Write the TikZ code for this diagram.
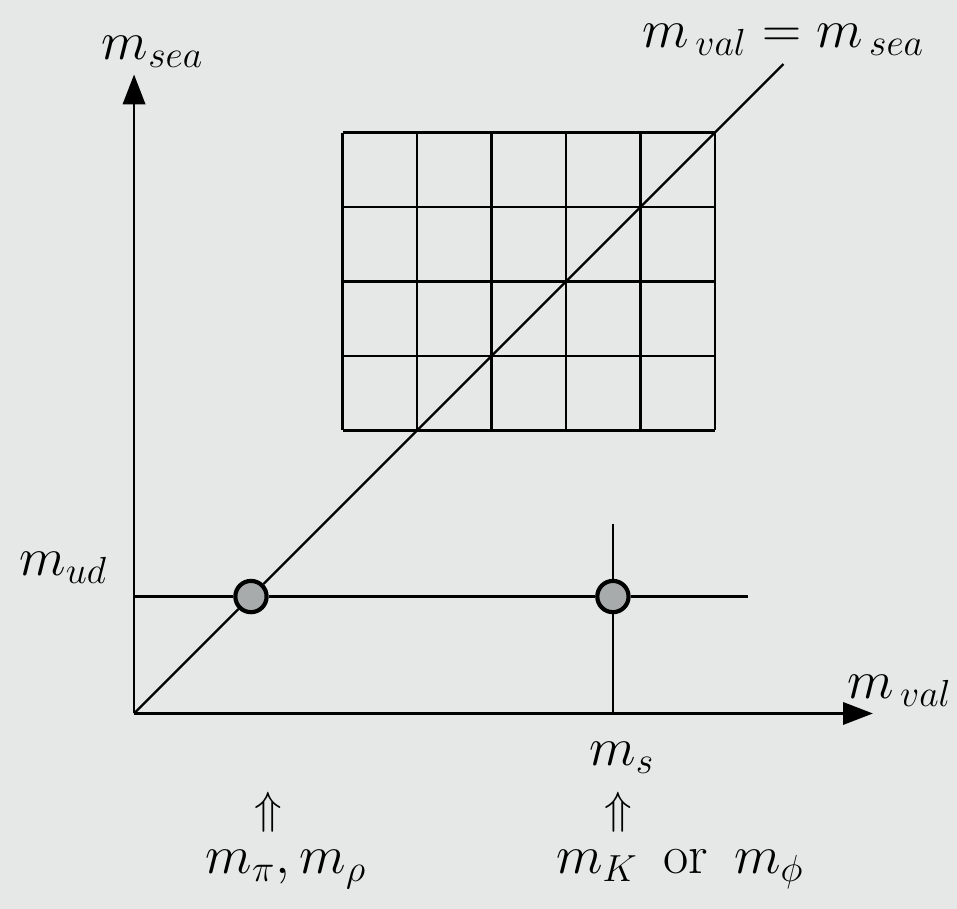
\documentclass[tikz,border=0pt]{standalone}
\usepackage{amsmath}
\usepackage{tikz}
\usetikzlibrary{arrows.meta, positioning}
\definecolor{paper}{RGB}{230,232,232}
\definecolor{dotgray}{RGB}{168,171,171}
\tikzset{
  lbl/.style={inner sep=0pt, font=\fontsize{21}{26}\selectfont},
  hint/.style={inner sep=0pt, font=\fontsize{17}{20}\selectfont},
  mass/.style={circle, draw=black, line width=1.6pt, fill=dotgray, minimum size=0.42cm, inner sep=0pt},
}

\begin{document}
\begin{tikzpicture}[line width=0.9pt, >={Triangle[length=4mm, width=3mm]}]
        % Frame
        \fill[paper] (-1.8,-2.62) rectangle (11.05,9.58);
        \useasboundingbox (-1.8,-2.62) rectangle (11.05,9.58);

        % Points
        \coordinate (O) at (0, 0);
        \coordinate (X) at (9.92, 0);
        \coordinate (Y) at (0, 8.58);
        \coordinate (D) at (8.72, 8.72);
        \coordinate (U) at (8.24, 1.57);
        \coordinate (S) at (6.43, 0);
        \coordinate (T) at (6.43, 2.54);

        % Lattice grid
        \draw[shift={(2.8, 3.8)}] (0, 0) grid (5, 4);

        % Nodes
        \node[mass] (pi) at (1.57, 1.57) {};
        \node[mass] (K) at (6.43, 1.57) {};

        \node[lbl] (msea) at (0.25, 8.88) {$m_{sea}$};
        \node[lbl] (diag) at (8.72, 9.05) {$m_{\,val} = m_{\,sea}$};
        \node[lbl] (mud) at (-0.95, 1.96) {$m_{ud}$};
        \node[lbl] (mval) at (10.28, 0.30) {$m_{\,val}$};
        \node[lbl] (ms) at (6.55, -0.60) {$m_{s}$};
        \node[hint] (up1) at (1.80, -1.33) {$\Uparrow$};
        \node[hint] (up2) at (6.50, -1.33) {$\Uparrow$};
        \node[lbl] (light) at (2.04, -2.09) {$m_\pi, m_\rho$};
        \node[lbl] (strange) at (7.33, -2.09) {$m_K$ \,or\, $m_\phi$};

        % Lines
        \draw (O) -- (pi) -- (D);
        \draw (O |- pi) -- (pi) -- (K) -- (U);
        \draw (S) -- (K) -- (T);
        \draw[->] (O) -- (X);
        \draw[->] (O) -- (Y);
    \end{tikzpicture}
\end{document}
